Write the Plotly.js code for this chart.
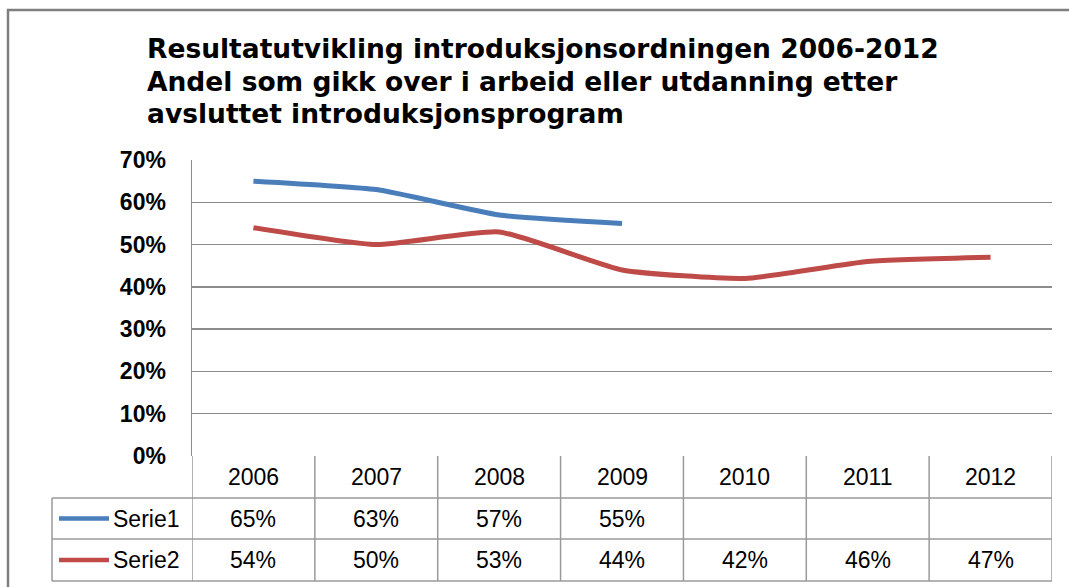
<!DOCTYPE html>
<html>
<head>
<meta charset="utf-8">
<script src="https://cdn.plot.ly/plotly-3.0.1.min.js"></script>
<style>html,body{margin:0;padding:0;background:#fff;}#chart{width:1069px;height:587px;}</style>
</head>
<body>
<div id="chart"></div>
<script>
var titleLines = [
  "Resultatutvikling introduksjonsordningen 2006-2012",
  "Andel som gikk over i arbeid eller utdanning etter",
  "avsluttet introduksjonsprogram"
];
var years = ["2006", "2007", "2008", "2009", "2010", "2011", "2012"];
var seriesNames = ["Serie1", "Serie2"];
var serie1 = [0.65, 0.63, 0.57, 0.55, null, null, null];
var serie2 = [0.54, 0.50, 0.53, 0.44, 0.42, 0.46, 0.47];
var colors = ["#4A7EBB", "#BE4B48"];

var W = 1069, H = 587;
var L = 192, R = 1052, T = 160, B = 456;
var PW = R - L, PH = B - T;
function px(x) { return (x - L) / PW; }
function py(y) { return (B - y) / PH; }

var xs = years.map(function (_, i) { return i; });
var allSeries = [serie1, serie2];

var traces = allSeries.map(function (s, k) {
  return {
    x: xs, y: s, type: "scatter", mode: "lines", name: seriesNames[k],
    line: { color: colors[k], width: 5, shape: "spline", smoothing: 0.5 },
    connectgaps: false, hoverinfo: "skip", showlegend: false
  };
});

var gridColor = "#8C8C8C";
var tableColor = "#9A9A9A";
var shapes = [];
// outer frame
shapes.push({ type: "rect", xref: "paper", yref: "paper", x0: px(8), x1: px(1075), y0: py(10), y1: py(600),
  line: { color: "#7F7F7F", width: 2.5 }, fillcolor: "rgba(0,0,0,0)", layer: "below" });
// table row lines
var rowY = [498, 539, 581];
rowY.forEach(function (y) {
  shapes.push({ type: "line", xref: "paper", yref: "paper", x0: px(52), x1: px(R), y0: py(y), y1: py(y),
    line: { color: tableColor, width: 1.5 } });
});
// left border of legend column
shapes.push({ type: "line", xref: "paper", yref: "paper", x0: px(52), x1: px(52), y0: py(498), y1: py(581),
  line: { color: tableColor, width: 1.5 } });
// column lines (category boundaries)
for (var k = 0; k <= years.length; k++) {
  shapes.push({ type: "line", xref: "x", yref: "paper", x0: k - 0.5, x1: k - 0.5, y0: py(B), y1: py(581),
    line: { color: tableColor, width: 1.5 } });
}
// legend keys
var rowCenters = [518.5, 560];
seriesNames.forEach(function (n, k) {
  shapes.push({ type: "line", xref: "paper", yref: "paper", x0: px(59), x1: px(109), y0: py(rowCenters[k]), y1: py(rowCenters[k]),
    line: { color: colors[k], width: 4.5 } });
});

var annotations = [];
var titleY = [48, 81, 114];
titleLines.forEach(function (t, i) {
  annotations.push({ text: t, xref: "paper", yref: "paper", x: px(145), y: py(titleY[i]), xanchor: "left", yanchor: "middle",
    showarrow: false, font: { family: "DejaVu Sans", size: 26.5, color: "#000", weight: "bold" } });
});
var cellFont = { family: "Liberation Sans", size: 23, color: "#000" };
years.forEach(function (yr, i) {
  annotations.push({ text: yr, xref: "x", yref: "paper", x: i, y: py(477), xanchor: "center", yanchor: "middle", showarrow: false, font: cellFont });
});
allSeries.forEach(function (s, k) {
  annotations.push({ text: seriesNames[k], xref: "paper", yref: "paper", x: px(181), y: py(rowCenters[k]), xanchor: "right", yanchor: "middle", showarrow: false, font: cellFont });
  s.forEach(function (v, i) {
    if (v === null) return;
    annotations.push({ text: Math.round(v * 100) + "%", xref: "x", yref: "paper", x: i, y: py(rowCenters[k]), xanchor: "center", yanchor: "middle", showarrow: false, font: cellFont });
  });
});

var layout = {
  width: W, height: H,
  margin: { l: L, r: W - R, t: T, b: H - B, pad: 0 },
  paper_bgcolor: "#fff", plot_bgcolor: "#fff",
  showlegend: false,
  xaxis: { range: [-0.5, years.length - 0.5], showgrid: false, zeroline: false, showticklabels: false, ticks: "", showline: false, fixedrange: true },
  yaxis: { range: [0, 0.7], dtick: 0.1, tick0: 0, tickformat: ".0%", showgrid: true, gridcolor: gridColor, gridwidth: 1.5,
    zeroline: false, showline: true, linecolor: gridColor, linewidth: 1.5, ticks: "", ticklabelstandoff: 20,
    tickfont: { family: "Liberation Sans", size: 23, color: "#000", weight: "bold" }, fixedrange: true },
  shapes: shapes,
  annotations: annotations
};

Plotly.newPlot("chart", traces, layout, { displayModeBar: false, staticPlot: true });
</script>
</body>
</html>
